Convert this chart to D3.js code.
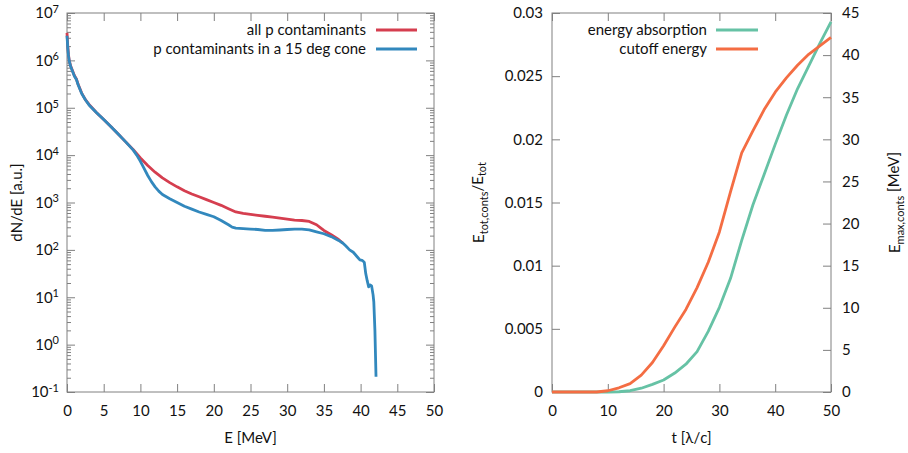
<!DOCTYPE html>
<html>
<head>
<meta charset="utf-8">
<script src="https://cdn.jsdelivr.net/npm/d3@7"></script>
<style>
  html, body { margin: 0; padding: 0; background: #fff; }
  svg { display: block; font-family: Lato, "Open Sans", sans-serif; }
  .tick text { fill: #111; }
</style>
</head>
<body>
<svg id="chart" width="908" height="453"></svg>
<script>
// ---------- Left panel: proton contaminant spectra (log10 of dN/dE) ----------
const energyAll = [0, 0.05, 0.1, 0.2, 0.3, 0.5, 0.75, 1.0, 1.3, 1.5, 2.0, 2.5, 3, 4, 5, 6, 7, 8, 9,
  10, 11, 12, 13, 14, 15, 16, 17, 18, 19, 20, 21, 22, 23, 24, 25, 26, 27, 28, 29, 30, 31, 32, 33,
  34, 34.5, 35, 36, 37, 37.6];
const logAll = [6.58, 6.45, 6.30, 6.12, 6.00, 5.88, 5.78, 5.68, 5.60, 5.50, 5.31, 5.17, 5.07, 4.90, 4.75, 4.60, 4.44, 4.28, 4.12,
  3.94, 3.78, 3.64, 3.52, 3.42, 3.33, 3.25, 3.18, 3.12, 3.06, 3.00, 2.94, 2.87, 2.80, 2.77, 2.75, 2.73, 2.71, 2.69, 2.67, 2.65, 2.63, 2.62, 2.60,
  2.53, 2.47, 2.41, 2.32, 2.22, 2.14];

const energyCone = [0, 0.05, 0.1, 0.2, 0.3, 0.5, 0.75, 1.0, 1.3, 1.5, 2.0, 2.5, 3, 4, 5, 6, 7, 8, 9,
  9.5, 10, 10.5, 11, 11.5, 12, 12.5, 13, 14, 15, 16, 17, 18, 19, 20, 21, 22, 22.5, 23, 24, 25, 26, 27, 28,
  29, 30, 31, 32, 33, 34, 35, 36, 37, 37.6, 38, 38.5, 39, 39.5, 39.9, 40.2, 40.5, 40.7, 40.9, 41.1, 41.3,
  41.5, 41.7, 41.8, 41.95, 42.1];
const logCone = [6.52, 6.40, 6.27, 6.10, 5.99, 5.87, 5.77, 5.67, 5.59, 5.49, 5.30, 5.17, 5.06, 4.90, 4.75, 4.60, 4.44, 4.28, 4.11,
  4.00, 3.87, 3.72, 3.57, 3.44, 3.33, 3.24, 3.17, 3.08, 3.00, 2.92, 2.86, 2.80, 2.75, 2.70, 2.62, 2.53, 2.48, 2.46, 2.45, 2.44, 2.43, 2.41, 2.41,
  2.42, 2.43, 2.44, 2.44, 2.42, 2.38, 2.34, 2.28, 2.20, 2.14, 2.08, 2.00, 1.95, 1.86, 1.79, 1.78, 1.74, 1.50, 1.35, 1.22, 1.26,
  1.24, 1.05, 0.90, 0.30, -0.68];

const seriesLeft = ["all p contaminants", "p contaminants in a 15 deg cone"];
const leftXTicks = [0, 5, 10, 15, 20, 25, 30, 35, 40, 45, 50];
const leftYExponents = [-1, 0, 1, 2, 3, 4, 5, 6, 7];

// ---------- Right panel: absorption fraction and cutoff energy vs time ----------
const timeSteps = [0, 2, 4, 6, 8, 10, 12, 14, 16, 18, 20, 22, 24, 26, 28, 30, 32, 34, 36, 38, 40, 42, 44, 46, 48, 50];
const energyAbsorption = [0, 0, 0, 0, 0, 0, 0.00002, 0.0001, 0.0003, 0.0006, 0.00095, 0.0015, 0.0022, 0.0032, 0.0048, 0.0067,
  0.0090, 0.0120, 0.0148, 0.0172, 0.0196, 0.0219, 0.0240, 0.0258, 0.0276, 0.0293];
const cutoffEnergy = [0, 0, 0, 0, 0, 0.15, 0.5, 1.0, 2.0, 3.5, 5.5, 7.7, 9.8, 12.4, 15.4, 19.0,
  23.8, 28.4, 31.0, 33.5, 35.6, 37.3, 38.8, 40.1, 41.1, 42.1];

const seriesRight = ["energy absorption", "cutoff energy"];
const rightXTicks = [0, 10, 20, 30, 40, 50];
const rightY1Ticks = [0, 0.005, 0.01, 0.015, 0.02, 0.025, 0.03];
const rightY1Labels = ["0", "0.005", "0.01", "0.015", "0.02", "0.025", "0.03"];
const rightY2Ticks = [0, 5, 10, 15, 20, 25, 30, 35, 40, 45];

const colors = { all: "#d53e4f", cone: "#3288bd", absorb: "#66c2a5", cutoff: "#f46d43" };
const frameColor = "#808080";
const FS = 15;     // main text size
const FS_SMALL = 11; // super/subscripts

const svg = d3.select("#chart");

function styleAxis(g) {
  g.select(".domain").remove();
  g.selectAll(".tick line").attr("stroke", frameColor);
  g.selectAll(".tick text").attr("font-size", FS).attr("font-family", "Lato");
}

// ================= LEFT PANEL =================
const L = { left: 67, right: 434, top: 13, bottom: 392 };
const xL = d3.scaleLinear().domain([0, 50]).range([L.left, L.right]);
const yL = d3.scaleLog().domain([0.1, 1e7]).range([L.bottom, L.top]);

const majorLog = leftYExponents.map(e => Math.pow(10, e));
const minorLog = [];
leftYExponents.slice(0, -1).forEach(e => {
  for (let m = 2; m <= 9; m++) minorLog.push(m * Math.pow(10, e));
});

const gL = svg.append("g");

// bottom axis with labels, ticks pointing inward
gL.append("g").attr("transform", `translate(0,${L.bottom})`)
  .call(d3.axisBottom(xL).tickValues(leftXTicks).tickSize(-8).tickPadding(13).tickFormat(d3.format("d")))
  .call(styleAxis);
// top mirror
gL.append("g").attr("transform", `translate(0,${L.top})`)
  .call(d3.axisTop(xL).tickValues(leftXTicks).tickSize(-8).tickFormat(""))
  .call(styleAxis);
// left log axis with power-of-ten labels
gL.append("g").attr("transform", `translate(${L.left},0)`)
  .call(d3.axisLeft(yL).tickValues(majorLog).tickSize(-8).tickPadding(8).tickFormat(""))
  .call(styleAxis)
  .call(g => g.selectAll(".tick text").each(function (d) {
    const t = d3.select(this);
    t.append("tspan").text("10");
    t.append("tspan").attr("dy", "-0.5em").attr("font-size", FS_SMALL).text(Math.round(Math.log10(d)));
  }));
gL.append("g").attr("transform", `translate(${L.left},0)`)
  .call(d3.axisLeft(yL).tickValues(minorLog).tickSize(-4).tickFormat(""))
  .call(styleAxis);
// right mirror
gL.append("g").attr("transform", `translate(${L.right},0)`)
  .call(d3.axisRight(yL).tickValues(majorLog).tickSize(-8).tickFormat(""))
  .call(styleAxis);
gL.append("g").attr("transform", `translate(${L.right},0)`)
  .call(d3.axisRight(yL).tickValues(minorLog).tickSize(-4).tickFormat(""))
  .call(styleAxis);

gL.append("rect")
  .attr("x", L.left).attr("y", L.top)
  .attr("width", L.right - L.left).attr("height", L.bottom - L.top)
  .attr("fill", "none").attr("stroke", frameColor).attr("stroke-width", 1);

const lineL = d3.line().x(d => xL(d[0])).y(d => yL(Math.pow(10, d[1])));
gL.append("path").datum(energyAll.map((e, i) => [e, logAll[i]]))
  .attr("d", lineL).attr("fill", "none").attr("stroke", colors.all)
  .attr("stroke-width", 2.8).attr("stroke-linejoin", "round");
gL.append("path").datum(energyCone.map((e, i) => [e, logCone[i]]))
  .attr("d", lineL).attr("fill", "none").attr("stroke", colors.cone)
  .attr("stroke-width", 2.8).attr("stroke-linejoin", "round");

// legend
const legL = gL.append("g").attr("font-size", FS).attr("fill", "#111");
[[seriesLeft[0], colors.all], [seriesLeft[1], colors.cone]].forEach(([label, c], i) => {
  const yy = 30 + i * 19;
  legL.append("text").attr("x", 366).attr("y", yy).attr("dy", "0.35em")
    .attr("text-anchor", "end").text(label);
  legL.append("line").attr("x1", 376).attr("x2", 417).attr("y1", yy).attr("y2", yy)
    .attr("stroke", c).attr("stroke-width", 3);
});

// axis titles
gL.append("text").attr("x", (L.left + L.right) / 2).attr("y", 443)
  .attr("text-anchor", "middle").attr("font-size", FS).attr("fill", "#111").text("E [MeV]");
gL.append("text").attr("transform", `translate(22,${(L.top + L.bottom) / 2}) rotate(-90)`)
  .attr("text-anchor", "middle").attr("font-size", FS).attr("fill", "#111").text("dN/dE [a.u.]");

// ================= RIGHT PANEL =================
const R = { left: 552, right: 831, top: 13, bottom: 392 };
const xR = d3.scaleLinear().domain([0, 50]).range([R.left, R.right]);
const yR1 = d3.scaleLinear().domain([0, 0.03]).range([R.bottom, R.top]);
const yR2 = d3.scaleLinear().domain([0, 45]).range([R.bottom, R.top]);

const gR = svg.append("g");

gR.append("g").attr("transform", `translate(0,${R.bottom})`)
  .call(d3.axisBottom(xR).tickValues(rightXTicks).tickSize(-8).tickPadding(13).tickFormat(d3.format("d")))
  .call(styleAxis);
gR.append("g").attr("transform", `translate(0,${R.top})`)
  .call(d3.axisTop(xR).tickValues(rightXTicks).tickSize(-8).tickFormat(""))
  .call(styleAxis);
gR.append("g").attr("transform", `translate(${R.left},0)`)
  .call(d3.axisLeft(yR1).tickValues(rightY1Ticks).tickSize(-8).tickPadding(9)
    .tickFormat((d, i) => rightY1Labels[i]))
  .call(styleAxis);
gR.append("g").attr("transform", `translate(${R.right},0)`)
  .call(d3.axisRight(yR2).tickValues(rightY2Ticks).tickSize(-8).tickPadding(11).tickFormat(d3.format("d")))
  .call(styleAxis);

gR.append("rect")
  .attr("x", R.left).attr("y", R.top)
  .attr("width", R.right - R.left).attr("height", R.bottom - R.top)
  .attr("fill", "none").attr("stroke", frameColor).attr("stroke-width", 1);

gR.append("path").datum(timeSteps.map((t, i) => [t, energyAbsorption[i]]))
  .attr("d", d3.line().x(d => xR(d[0])).y(d => yR1(d[1])))
  .attr("fill", "none").attr("stroke", colors.absorb).attr("stroke-width", 2.8).attr("stroke-linejoin", "round");
gR.append("path").datum(timeSteps.map((t, i) => [t, cutoffEnergy[i]]))
  .attr("d", d3.line().x(d => xR(d[0])).y(d => yR2(d[1])))
  .attr("fill", "none").attr("stroke", colors.cutoff).attr("stroke-width", 2.8).attr("stroke-linejoin", "round");

const legR = gR.append("g").attr("font-size", FS).attr("fill", "#111");
[[seriesRight[0], colors.absorb], [seriesRight[1], colors.cutoff]].forEach(([label, c], i) => {
  const yy = 30 + i * 19;
  legR.append("text").attr("x", 707).attr("y", yy).attr("dy", "0.35em")
    .attr("text-anchor", "end").text(label);
  legR.append("line").attr("x1", 716).attr("x2", 758).attr("y1", yy).attr("y2", yy)
    .attr("stroke", c).attr("stroke-width", 3);
});

gR.append("text").attr("x", (R.left + R.right) / 2).attr("y", 443)
  .attr("text-anchor", "middle").attr("font-size", FS).attr("fill", "#111").text("t [λ/c]");

const y1Title = gR.append("text")
  .attr("transform", `translate(484,${(R.top + R.bottom) / 2}) rotate(-90)`)
  .attr("text-anchor", "middle").attr("font-size", FS).attr("fill", "#111");
y1Title.append("tspan").text("E");
y1Title.append("tspan").attr("font-size", FS_SMALL).attr("dy", "0.35em").text("tot,conts");
y1Title.append("tspan").attr("dy", "-0.35em").text("/E");
y1Title.append("tspan").attr("font-size", FS_SMALL).attr("dy", "0.35em").text("tot");

const y2Title = gR.append("text")
  .attr("transform", `translate(900,${(R.top + R.bottom) / 2}) rotate(-90)`)
  .attr("text-anchor", "middle").attr("font-size", FS).attr("fill", "#111");
y2Title.append("tspan").text("E");
y2Title.append("tspan").attr("font-size", FS_SMALL).attr("dy", "0.35em").text("max,conts");
y2Title.append("tspan").attr("dy", "-0.35em").text(" [MeV]");
</script>
</body>
</html>
